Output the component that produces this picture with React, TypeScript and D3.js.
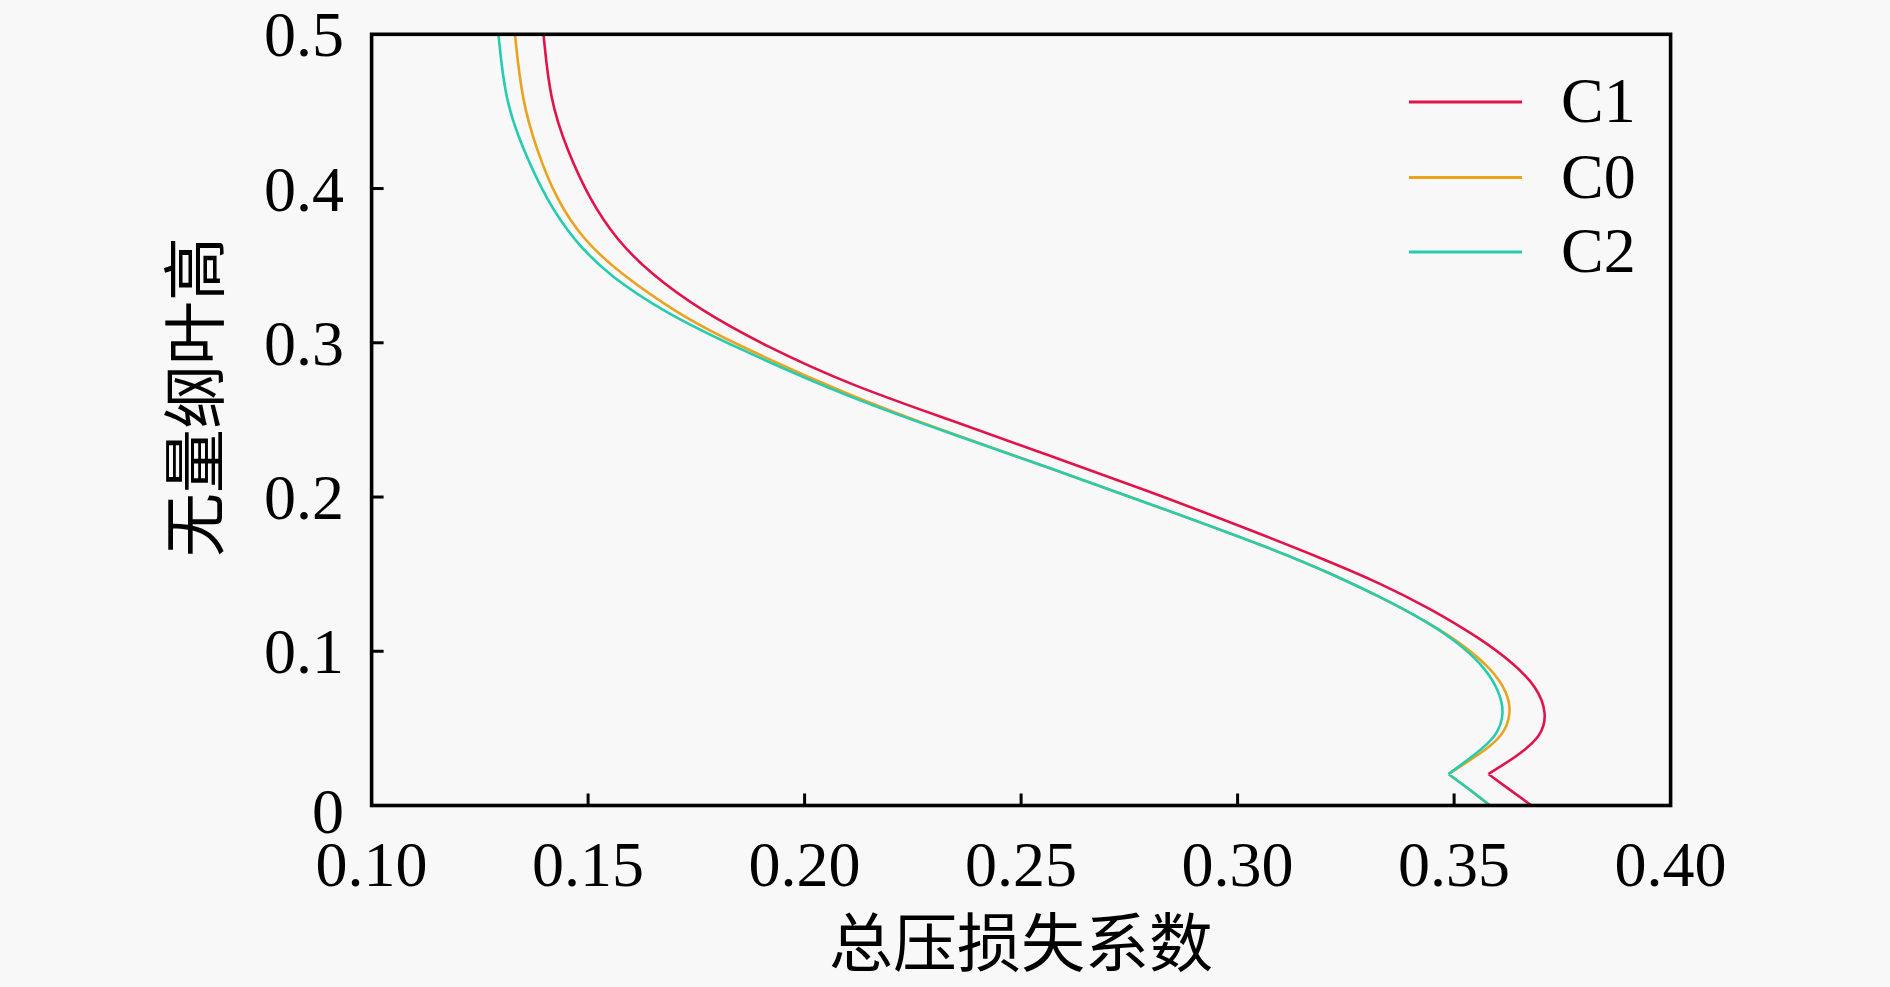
import * as d3 from 'd3';

const W = 1890;
const H = 987;
const [ml, mt, mr, mb] = [371.6, 34.3, 1670.6, 805.5];

// 无量纲叶高 (y) and 总压损失系数 (x) for each case
const c1Height = [0, 0.0101, 0.0204, 0.0317, 0.0446, 0.0598, 0.077, 0.0922, 0.1084, 0.1279, 0.1441, 0.1581, 0.1787, 0.2035, 0.2267, 0.25, 0.2727, 0.2975, 0.3213, 0.3451, 0.3667, 0.3927, 0.4251, 0.4575, 0.5];
const c1Loss = [0.3679, 0.3629, 0.3579, 0.3644, 0.3702, 0.3715, 0.3691, 0.3637, 0.356, 0.3444, 0.3329, 0.3213, 0.3029, 0.2798, 0.2567, 0.2336, 0.2105, 0.1912, 0.1758, 0.1643, 0.1566, 0.1504, 0.1451, 0.1412, 0.1397];

const c0Height = [0, 0.0101, 0.0204, 0.0338, 0.0446, 0.0598, 0.074, 0.0879, 0.103, 0.1182, 0.1354, 0.1506, 0.1646, 0.1955, 0.2187, 0.2414, 0.2655, 0.2997, 0.3192, 0.3451, 0.3667, 0.3927, 0.4251, 0.4575, 0.5];
const c0Loss = [0.3583, 0.3537, 0.3487, 0.3562, 0.3612, 0.3633, 0.3622, 0.3588, 0.3527, 0.3444, 0.3329, 0.3213, 0.3098, 0.2798, 0.2567, 0.2336, 0.2105, 0.1835, 0.1705, 0.1573, 0.1489, 0.1427, 0.1381, 0.1347, 0.1331];

const c2Height = [0, 0.0101, 0.0204, 0.0338, 0.0446, 0.0598, 0.074, 0.0879, 0.103, 0.1182, 0.1354, 0.1506, 0.1646, 0.1955, 0.2187, 0.2414, 0.2641, 0.2997, 0.3192, 0.343, 0.3667, 0.3927, 0.4251, 0.4575, 0.5];
const c2Loss = [0.3583, 0.3537, 0.3487, 0.3552, 0.3598, 0.3617, 0.3604, 0.3575, 0.3521, 0.3444, 0.3329, 0.3213, 0.3098, 0.2798, 0.2567, 0.2336, 0.2105, 0.182, 0.1681, 0.155, 0.1466, 0.1404, 0.135, 0.1308, 0.1293];

const seriesNames = ['C1', 'C0', 'C2'];
const seriesColors = ['#e0144b', '#eba21f', '#25ccb0'];

const xTicks = [0.1, 0.15, 0.2, 0.25, 0.3, 0.35, 0.4];
const yTicks = [0, 0.1, 0.2, 0.3, 0.4, 0.5];

const xTitle = '总压损失系数';
const yTitle = '无量纲叶高';

const font = "'Liberation Serif', 'Noto Sans CJK SC', serif";

type Pt = [number, number];

export default function App() {
    const x = d3.scaleLinear().domain([0.1, 0.4]).range([ml, mr]);
    const y = d3.scaleLinear().domain([0, 0.5]).range([mb, mt]);

    // straight run from the hub up to the kink, smooth curve above it
    const straight = d3
        .line<Pt>()
        .x((d) => x(d[0]))
        .y((d) => y(d[1]));
    const smooth = d3
        .line<Pt>()
        .x((d) => x(d[0]))
        .y((d) => y(d[1]))
        .curve(d3.curveBasis);

    const series = [
        d3.zip(c1Loss, c1Height) as Pt[],
        d3.zip(c0Loss, c0Height) as Pt[],
        d3.zip(c2Loss, c2Height) as Pt[]
    ];

    const paths = series.map((pts) => {
        const low = pts.filter((p) => p[1] < 0.05);
        const k = d3.minIndex(low, (p) => p[0]);
        return `${straight(pts.slice(0, k + 1))}${smooth(pts.slice(k))}`;
    });

    const tickLen = 12;
    const legendX = 1409;
    const legendY = [102, 177.5, 252];

    return (
        <svg width={W} height={H} style={{ position: 'absolute', left: 0, top: 0 }} fontFamily={font}>
            <rect width={W} height={H} fill="#f8f8f8" />

            {paths.map((d, i) => (
                <path key={seriesNames[i]} d={d} fill="none" stroke={seriesColors[i]} strokeWidth={2.6} strokeLinejoin="miter" />
            ))}

            {/* ticks, pointing inward */}
            {xTicks.slice(1, -1).map((t) => (
                <line key={`xt${t}`} x1={x(t)} x2={x(t)} y1={mb} y2={mb - tickLen} stroke="#000" strokeWidth={3} />
            ))}
            {yTicks.slice(1, -1).map((t) => (
                <line key={`yt${t}`} x1={ml} x2={ml + tickLen} y1={y(t)} y2={y(t)} stroke="#000" strokeWidth={3} />
            ))}

            <rect x={ml} y={mt} width={mr - ml} height={mb - mt} fill="none" stroke="#000" strokeWidth={3.6} />

            {xTicks.map((t) => (
                <text key={`xl${t}`} x={x(t)} y={886} fontSize={64} textAnchor="middle" fill="#000">
                    {d3.format('.2f')(t)}
                </text>
            ))}
            {yTicks.map((t) => (
                <text key={`yl${t}`} x={344} y={y(t) + (t === 0 ? 27 : 22)} fontSize={64} textAnchor="end" fill="#000">
                    {t === 0 ? '0' : d3.format('.1f')(t)}
                </text>
            ))}

            <text x={(ml + mr) / 2} y={966} fontSize={64} textAnchor="middle" fill="#000">
                {xTitle}
            </text>
            <text transform="translate(194,397) rotate(-90)" y={24} fontSize={64} textAnchor="middle" fill="#000">
                {yTitle}
            </text>

            {seriesNames.map((name, i) => (
                <g key={name}>
                    <line x1={legendX} x2={legendX + 113} y1={legendY[i]} y2={legendY[i]} stroke={seriesColors[i]} strokeWidth={2.8} />
                    <text x={1561} y={legendY[i] + 20} fontSize={64} fill="#000">
                        {name}
                    </text>
                </g>
            ))}
        </svg>
    );
}
